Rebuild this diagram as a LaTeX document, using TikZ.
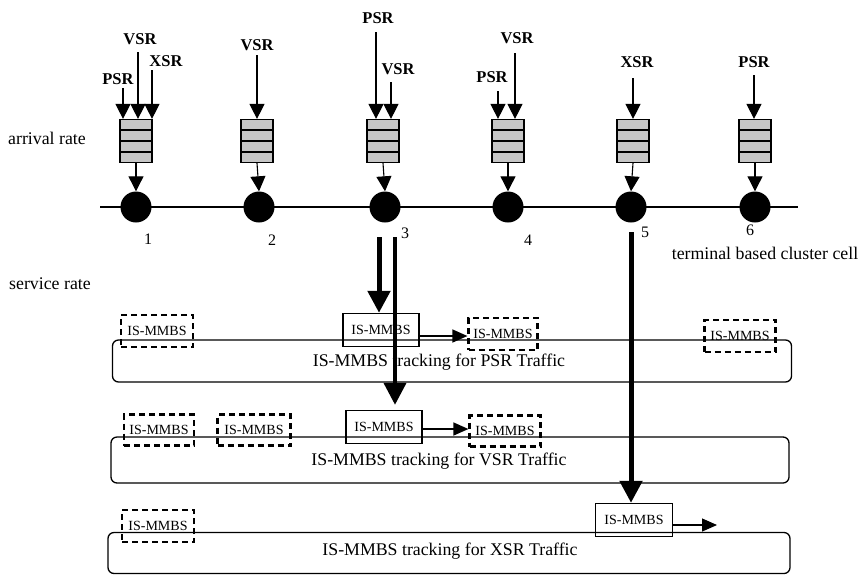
\documentclass[tikz,border=0pt]{standalone}
\usepackage{fontspec}
\setmainfont{Liberation Serif}
\usetikzlibrary{arrows.meta,calc}

\tikzset{
  cellnode/.style={circle,fill=black,minimum size=31pt,inner sep=0pt},
  queue/.style={draw,line width=1.2pt,fill=gray!45,minimum width=32pt,minimum height=43pt,inner sep=0pt},
  feed/.style={line width=1.1pt,-{Triangle[width=15pt,length=15pt]}},
  srclabel/.style={font=\fontsize{16.5}{18}\selectfont\bfseries,inner sep=0pt},
  numlabel/.style={font=\fontsize{16}{18}\selectfont,inner sep=0pt},
  bigtext/.style={font=\fontsize{17.8}{20}\selectfont,inner sep=0pt},
  rowbox/.style={draw,line width=1.3pt,rounded corners=6pt,minimum height=42pt,inner sep=0pt},
  mmbs/.style={draw,line width=1.4pt,minimum width=76pt,minimum height=33pt,inner sep=0pt,font=\fontsize{14}{15}\selectfont},
  mmbsdash/.style={mmbs,line width=2.2pt,dash pattern=on 6pt off 4pt,minimum width=72pt,minimum height=32pt},
  service/.style={line width=5pt,-{Triangle[width=22pt,length=22pt]}},
  handoff/.style={line width=1.3pt,-{Triangle[width=13pt,length=15pt]}}
}

\begin{document}
\begin{tikzpicture}[x=1pt,y=-1pt]
  \useasboundingbox (0,0) rectangle (861,574);

  % Side labels
  \node[bigtext] (arrival) at (47,138) {arrival rate};
  \node[bigtext] (service) at (50,284) {service rate};

  % Cluster line and cells
  \coordinate (lineL) at (100,207);
  \coordinate (lineR) at (798,207);
  \draw[line width=1.5pt] (lineL) -- (lineR);
  \node[cellnode] (c1) at (136,207) {};
  \node[cellnode] (c2) at (259,207) {};
  \node[cellnode] (c3) at (385,207) {};
  \node[cellnode] (c4) at (508,207) {};
  \node[cellnode] (c5) at (631,207) {};
  \node[cellnode] (c6) at (755,207) {};

  % Cell numbers
  \node[numlabel] (n1) at (148,239) {1};
  \node[numlabel] (n2) at (272,240) {2};
  \node[numlabel] (n3) at (405,233) {3};
  \node[numlabel] (n4) at (528,240) {4};
  \node[numlabel] (n5) at (645,232) {5};
  \node[numlabel] (n6) at (750,230) {6};
  \node[bigtext] (cluster) at (765,253) {terminal based cluster cell};

  % Queues
  \node[queue] (q1) at (136,141) {};
  \node[queue] (q2) at (257,141) {};
  \node[queue] (q3) at (383,141) {};
  \node[queue] (q4) at (508,141) {};
  \node[queue] (q5) at (633,141) {};
  \node[queue] (q6) at (755,141) {};
  \foreach \q in {q1,q2,q3,q4,q5,q6} {
    \foreach \f in {0.25,0.5,0.75}
      \draw[line width=1.3pt] ($(\q.north west)!\f!(\q.south west)$) -- ($(\q.north east)!\f!(\q.south east)$);
  }
  \foreach \i in {1,...,6}
    \draw[feed] (q\i.south) -- (c\i.north);

  % Arrival streams
  \node[srclabel] (p1) at (118,79) {PSR};
  \node[srclabel] (v1) at (140,39) {VSR};
  \node[srclabel] (x1) at (166,61) {XSR};
  \node[srclabel] (v2) at (257,45) {VSR};
  \node[srclabel] (p3) at (378,18) {PSR};
  \node[srclabel] (v3) at (398,69) {VSR};
  \node[srclabel] (p4) at (492,77) {PSR};
  \node[srclabel] (v4) at (517,38) {VSR};
  \node[srclabel] (x5) at (637,62) {XSR};
  \node[srclabel] (p6) at (754,62) {PSR};

  \coordinate (s1p) at (123,88);
  \coordinate (s1v) at (138,52);
  \coordinate (s1x) at (152,70);
  \coordinate (s2v) at (257,55);
  \coordinate (s3p) at (376,32);
  \coordinate (s3v) at (391,82);
  \coordinate (s4p) at (498,91);
  \coordinate (s4v) at (515,53);
  \coordinate (s5x) at (633,78);
  \coordinate (s6p) at (754,75);
  \draw[feed] (s1p) -- (s1p |- q1.north);
  \draw[feed] (s1v) -- (s1v |- q1.north);
  \draw[feed] (s1x) -- (s1x |- q1.north);
  \draw[feed] (s2v) -- (s2v |- q2.north);
  \draw[feed] (s3p) -- (s3p |- q3.north);
  \draw[feed] (s3v) -- (s3v |- q3.north);
  \draw[feed] (s4p) -- (s4p |- q4.north);
  \draw[feed] (s4v) -- (s4v |- q4.north);
  \draw[feed] (s5x) -- (s5x |- q5.north);
  \draw[feed] (s6p) -- (s6p |- q6.north);

  % PSR tracking row
  \node[rowbox,minimum width=679pt] (psrrow) at (452,361) {};
  \node[bigtext] (psrtext) at (439,362) {IS-MMBS tracking for PSR Traffic};
  \node[mmbsdash] (d11) at (157,331) {IS-MMBS};
  \node[mmbs] (s1) at (381,330) {IS-MMBS};
  \node[mmbsdash,minimum width=69pt] (d12) at (503,334) {IS-MMBS};
  \node[mmbsdash,minimum width=71pt] (d13) at (740,336) {IS-MMBS};
  \draw[handoff] ([yshift=-6pt]s1.east) -- ([yshift=-6pt]s1.east -| d12.west);

  % VSR tracking row
  \node[rowbox,minimum width=678pt,minimum height=46pt] (vsrrow) at (450,460) {};
  \node[bigtext] (vsrtext) at (439,461) {IS-MMBS tracking for VSR Traffic};
  \node[mmbsdash,minimum width=70pt,minimum height=31pt] (d21) at (159,430) {IS-MMBS};
  \node[mmbsdash,minimum width=73pt,minimum height=31pt] (d22) at (254,430) {IS-MMBS};
  \node[mmbs] (s2) at (384,427) {IS-MMBS};
  \node[mmbsdash,minimum width=71pt,minimum height=31pt] (d23) at (505,431) {IS-MMBS};
  \draw[handoff] ([yshift=-2pt]s2.east) -- ([yshift=-2pt]s2.east -| d23.west);

  % XSR tracking row
  \node[rowbox,minimum width=682pt,minimum height=41pt] (xsrrow) at (449,553) {};
  \node[bigtext] (xsrtext) at (450,551) {IS-MMBS tracking for XSR Traffic};
  \node[mmbsdash] (d31) at (158,526) {IS-MMBS};
  \node[mmbs,minimum width=77pt] (s3) at (634,520) {IS-MMBS};
  \coordinate (xout) at (717,525);
  \draw[handoff] (s3.east |- xout) -- (xout);

  % Service flows
  \coordinate (f1) at (379,237);
  \coordinate (f2) at (395,237);
  \coordinate (f3) at (631,232);
  \draw[service] (f1) -- (f1 |- s1.north);
  \draw[service,line width=4pt] (f2) -- ([yshift=5pt]f2 |- s2.north);
  \draw[service] (f3) -- (f3 |- s3.north);
\end{tikzpicture}
\end{document}
